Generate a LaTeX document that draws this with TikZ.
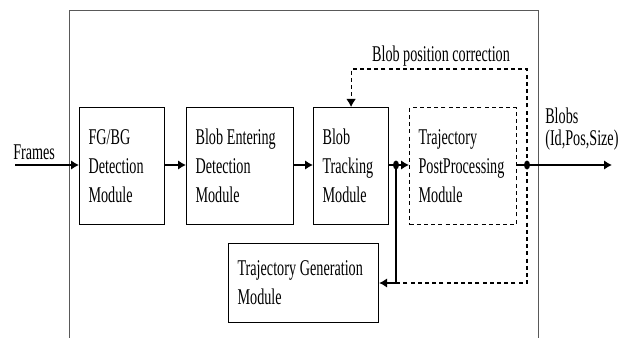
\documentclass[tikz,border=0pt]{standalone}
\usepackage{fontspec}
\setmainfont[FakeStretch=0.63]{Liberation Serif}
\usetikzlibrary{arrows.meta}
\newcommand\diagfont{\fontsize{16}{20.6}\selectfont}

\begin{document}
\begin{tikzpicture}[x=0.25mm,y=-0.25mm,
  module/.style={draw,thick,anchor=north west,align=left,inner xsep=2.25mm,
    minimum height=29.25mm,font=\diagfont,
    execute at begin node={\spaceskip=0.17em plus 0.05em\relax}},
  flow/.style={line width=1.4pt,-{Latex[length=2mm,width=2.4mm]}},
  back/.style={thick,dash pattern=on 1mm off 0.8mm},
  txt/.style={inner sep=0pt,font=\diagfont}]
\useasboundingbox (0,0) rectangle (618,338);
\draw[gray!70!black,semithick] (69,338) -- (69,10) -- (538,10) -- (538,338);
\node[module,text width=16.75mm] (fgbg) at (79,107) {FG/BG\\Detection\\Module};
\node[module,text width=22.25mm] (enter) at (186,107) {Blob Entering\\Detection\\Module};
\node[module,text width=14.25mm] (track) at (313,107) {Blob\\Tracking\\Module};
\node[module,back,text width=22.25mm] (post) at (409,107) {Trajectory\\PostProcessing\\Module};
\node[module,text width=33mm,minimum height=19.75mm] (gen) at (228,243) {Trajectory Generation\\Module};
\coordinate (in) at (15,165);
\coordinate (split1) at (396,165);
\coordinate (split2) at (527,165);
\coordinate (out) at (612,165);
\coordinate (top) at (527,69);
\coordinate (bot) at (527,283);
\coordinate (turn) at (396,283);
\draw[flow] (in) -- (in -| fgbg.west);
\draw[flow] (fgbg.east |- in) -- (enter.west |- in);
\draw[flow] (enter.east |- in) -- (track.west |- in);
\draw[line width=1.4pt] (track.east |- in) -- (split1);
\draw[flow] (split1) -- (post.west |- in);
\draw[line width=1.4pt] (post.east |- in) -- (split2);
\draw[flow] (split2) -- (out);
\draw[back,-{Latex[length=2mm,width=2.4mm]}] (split2) -- (top) -| (track.north);
\draw[back] (split2) -- (bot) -- (turn);
\draw[thick] (split1) -- (turn);
\draw[flow] (turn) -- (gen.east |- turn);
\fill (split1) ellipse [x radius=3,y radius=4.5];
\fill (split2) ellipse [x radius=3,y radius=4.5];
\node[txt,anchor=base west] (frames) at (13,159) {Frames};
\node[txt,anchor=base] (corr) at (441,62) {Blob position correction};
\node[txt,anchor=base west] (blobs) at (545,123) {Blobs};
\node[txt,anchor=base west] (blobinfo) at (545,145) {(Id,Pos,Size)};
\end{tikzpicture}
\end{document}
